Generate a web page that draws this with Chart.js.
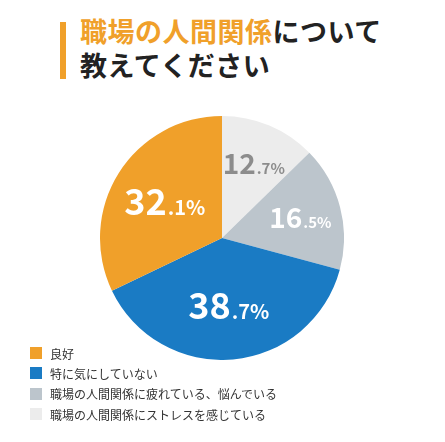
<!DOCTYPE html>
<html><head><meta charset="utf-8">
<script src="https://cdn.jsdelivr.net/npm/chart.js@4/dist/chart.umd.min.js"></script>
<style>
body{margin:0;background:#fff;width:445px;height:442px;position:relative;font-family:"Noto Sans CJK JP",sans-serif;overflow:hidden}
#bar{position:absolute;left:60px;top:22px;width:6px;height:57px;background:#f0a02a}
#title{position:absolute;left:80px;top:14px;font-size:27px;font-weight:700;line-height:34px;color:#222;letter-spacing:0.5px}
#title span{color:#f0a02a}
#wrap{position:absolute;left:100px;top:116px;width:244px;height:244px}
#legend{position:absolute;left:30px;top:343px;font-size:12px;color:#333}
.it{height:20.3px;display:flex;align-items:center}
.sw{width:12px;height:12px;margin-right:8px}
</style></head><body>
<div id="bar"></div>
<div id="title"><span>職場の人間関係</span>について<br>教えてください</div>
<div id="wrap"><canvas id="c"></canvas></div>
<div id="legend"></div>
<script>
const categories=["良好","特に気にしていない","職場の人間関係に疲れている、悩んでいる","職場の人間関係にストレスを感じている"];
const values=[32.1,38.7,16.5,12.7];
const colors=["#f0a02a","#1a7bc4","#bcc5cc","#ececec"];
const labelColors=["#fff","#fff","#fff","#8c8c8c"];
const bigSizes=[36,36,28,28];
const lg=document.getElementById('legend');
categories.forEach((c,i)=>{lg.innerHTML+=`<div class="it"><div class="sw" style="background:${colors[i]}"></div>${c}</div>`;});
// pie drawn clockwise from top in reverse legend order
const idx=[3,2,1,0];
const pv=idx.map(i=>values[i]), pc=idx.map(i=>colors[i]), pl=idx.map(i=>categories[i]);
const lbl={id:'lbl',afterDatasetsDraw(ch){
 const ctx=ch.ctx;const meta=ch.getDatasetMeta(0);
 meta.data.forEach((a,j)=>{
  const i=idx[j];
  const mid=(a.startAngle+a.endAngle)/2;const r=a.outerRadius*(i<2?0.56:0.66);
  const x=a.x+Math.cos(mid)*r, y=a.y+Math.sin(mid)*r;
  const s=values[i].toFixed(1).split('.');const big=s[0], small='.'+s[1]+'%';
  const bf=`700 ${bigSizes[i]}px "Noto Sans CJK JP"`, sf=`700 ${Math.round(bigSizes[i]*0.55)}px "Noto Sans CJK JP"`;
  ctx.save();ctx.font=bf;const w1=ctx.measureText(big).width;ctx.font=sf;const w2=ctx.measureText(small).width;
  const x0=x-(w1+w2)/2, by=y+bigSizes[i]*0.36;
  ctx.fillStyle=labelColors[i];ctx.textBaseline='alphabetic';ctx.textAlign='left';
  ctx.font=bf;ctx.fillText(big,x0,by);ctx.font=sf;ctx.fillText(small,x0+w1+1,by);ctx.restore();
 });}};
new Chart(document.getElementById('c'),{type:'pie',
 data:{labels:pl,datasets:[{data:pv,backgroundColor:pc,borderWidth:0}]},
 options:{responsive:true,maintainAspectRatio:false,animation:false,
  layout:{padding:0},plugins:{legend:{display:false},tooltip:{enabled:false}}},
 plugins:[lbl]});
</script></body></html>
